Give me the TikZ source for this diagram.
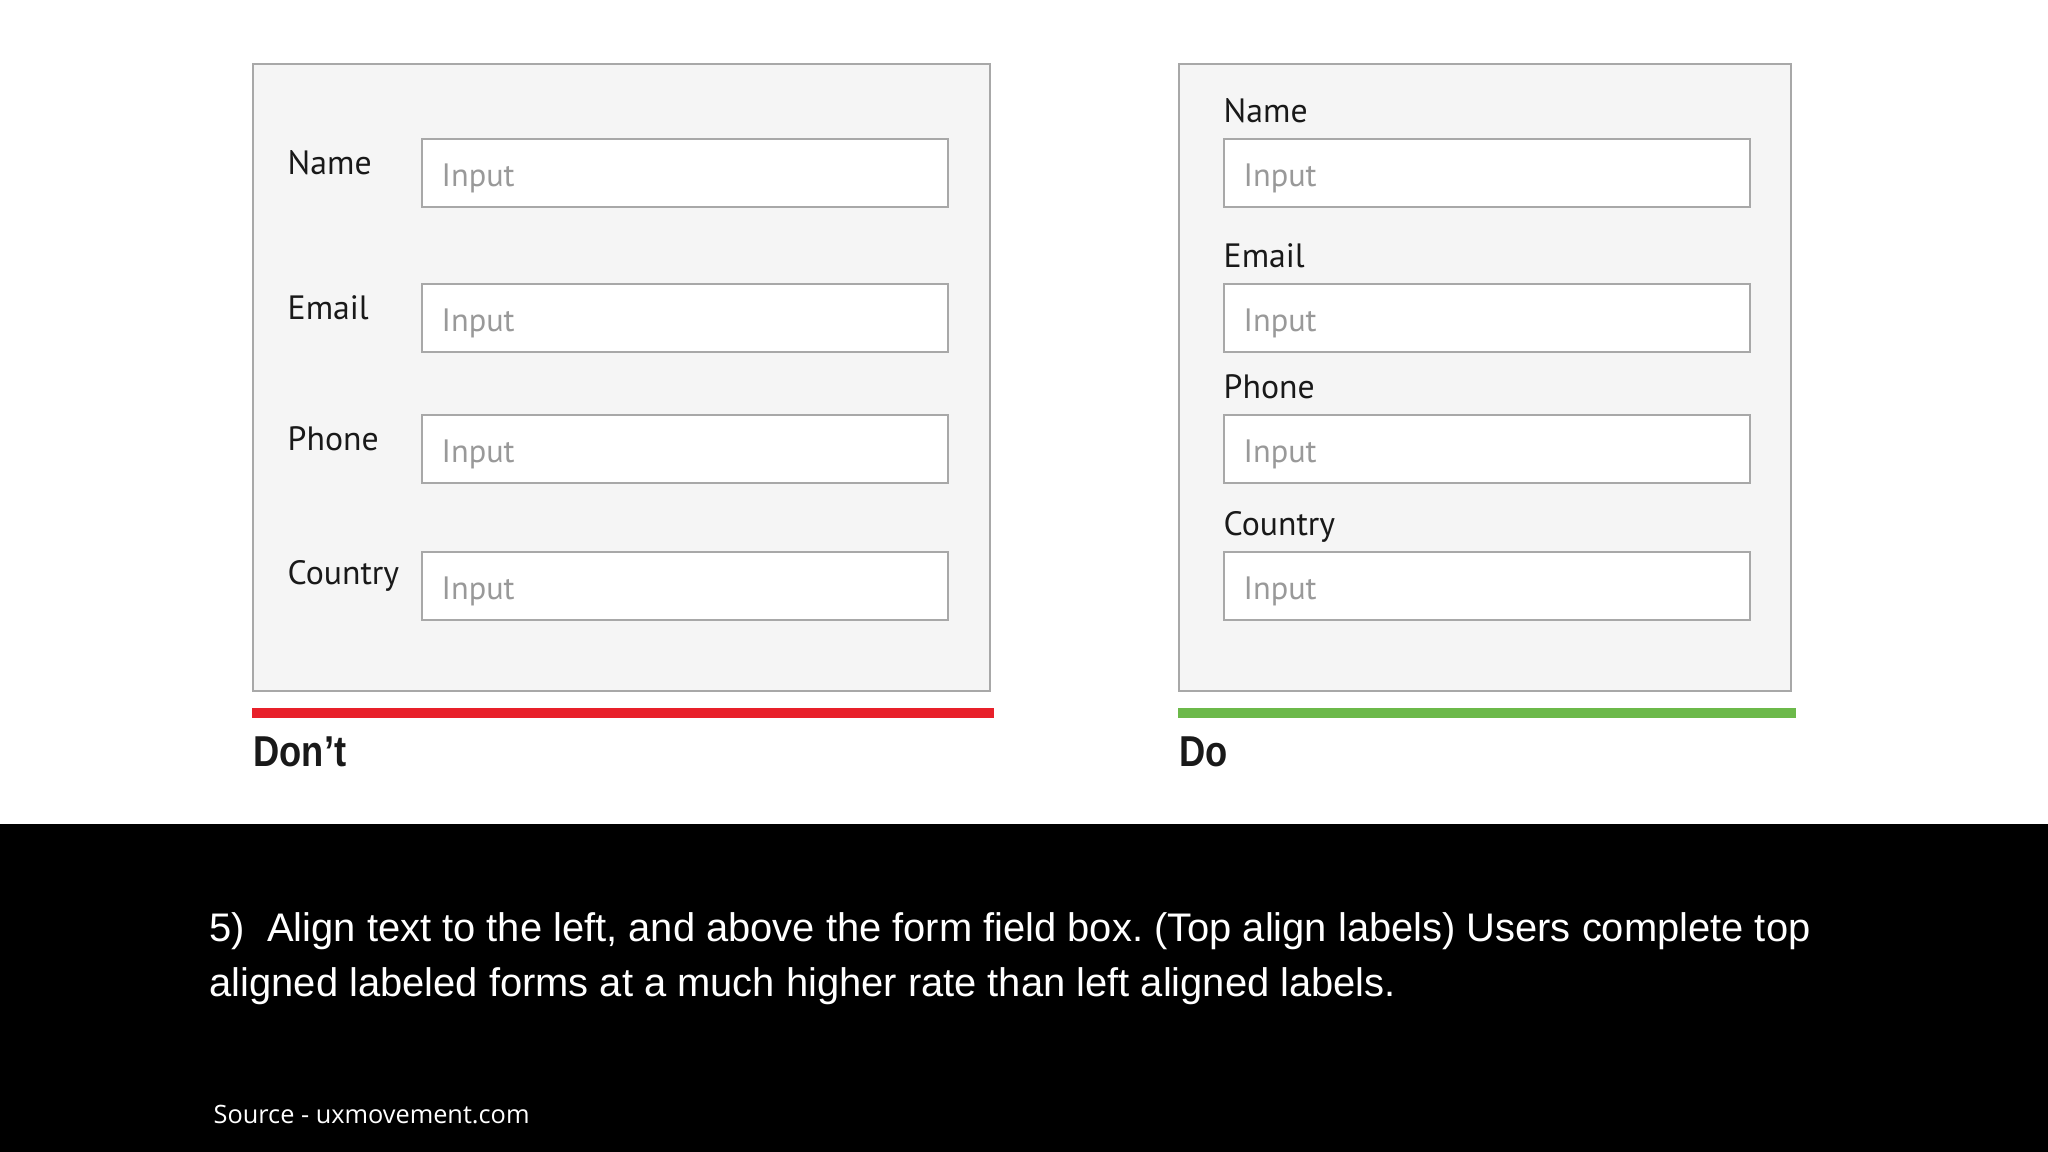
\documentclass[tikz,border=0pt]{standalone}
\usepackage{fontspec}
\setmainfont{Liberation Sans}
\newfontfamily\uifont{PT Sans}
\newfontfamily\srcfont{Open Sans}
\usetikzlibrary{positioning}
\definecolor{panelgray}{HTML}{F5F5F5}
\definecolor{linegray}{HTML}{A8A8A8}
\definecolor{dontred}{HTML}{E8202A}
\definecolor{dogreen}{HTML}{6CB94A}
\frenchspacing
\tikzset{
    panel/.style={fill=panelgray, draw=linegray, line width=0.6pt},
    field/.style={draw=linegray, fill=white, line width=0.6pt, minimum width=5.26cm, minimum height=0.68cm, anchor=north west, inner sep=0pt},
    fieldtext/.style={text=black!40, font=\uifont\fontsize{9.2}{11}\selectfont, anchor=west, inner sep=0pt},
    lbl/.style={font=\uifont\fontsize{9.6}{11}\selectfont, text=black!90, inner sep=0pt},
    verdict/.style={font=\bfseries\fontsize{12.3}{14}\selectfont, text=black!90, anchor=west, inner sep=0pt, xscale=0.84, transform shape},
    caption/.style={font=\fontsize{11.35}{15.6}\selectfont, text=white, anchor=base west, inner sep=0pt}
}
\begin{document}
\begin{tikzpicture}
    \useasboundingbox (0,0) rectangle (20.48,11.52);
    \fill [white] (0,3.28) rectangle (20.48,11.52);
    \fill [black] (0,0) rectangle (20.48,3.28);
    \draw [panel] (2.53,10.88) rectangle (9.90,4.61);
    \draw [panel] (11.79,10.88) rectangle (17.91,4.61);
    \fill [dontred] (2.52,4.34) rectangle (9.94,4.44);
    \fill [dogreen] (11.78,4.34) rectangle (17.96,4.44);
    \foreach \y/\lab [count=\i] in {10.14/Name, 8.69/Email, 7.38/Phone, 6.01/Country}{
        % left form: label beside the box
        \node [field] (l\i) at (4.21,\y) {};
        \node [fieldtext] (lt\i) at ([xshift=0.2cm, yshift=-0.05cm]l\i.west) {Input};
        \node [lbl, anchor=west] (ll\i) at (2.87,{\y-0.25}) {\lab};
        % right form: label above the box
        \node [field] (r\i) at (12.23,\y) {};
        \node [fieldtext] (rt\i) at ([xshift=0.2cm, yshift=-0.05cm]r\i.west) {Input};
        \node [lbl, anchor=base west] (rl\i) at ([yshift=0.15cm]r\i.north west) {\lab};
    }
    \node [verdict] (dont) at (2.53,4.00) {Don’t};
    \node [verdict] (do) at (11.79,4.00) {Do};
    \node [caption] (note1) at (2.09,2.107) {5)\ \ Align text to the left, and above the form field box. (Top align labels) Users complete top};
    \node [caption] (note2) at (2.09,1.557) {aligned labeled forms at a much higher rate than left aligned labels.};
    \node [font=\srcfont\fontsize{7.2}{8}\selectfont, text=white, anchor=west, inner sep=0pt] (src) at (2.13,0.37) {Source - uxmovement.com};
\end{tikzpicture}
\end{document}
